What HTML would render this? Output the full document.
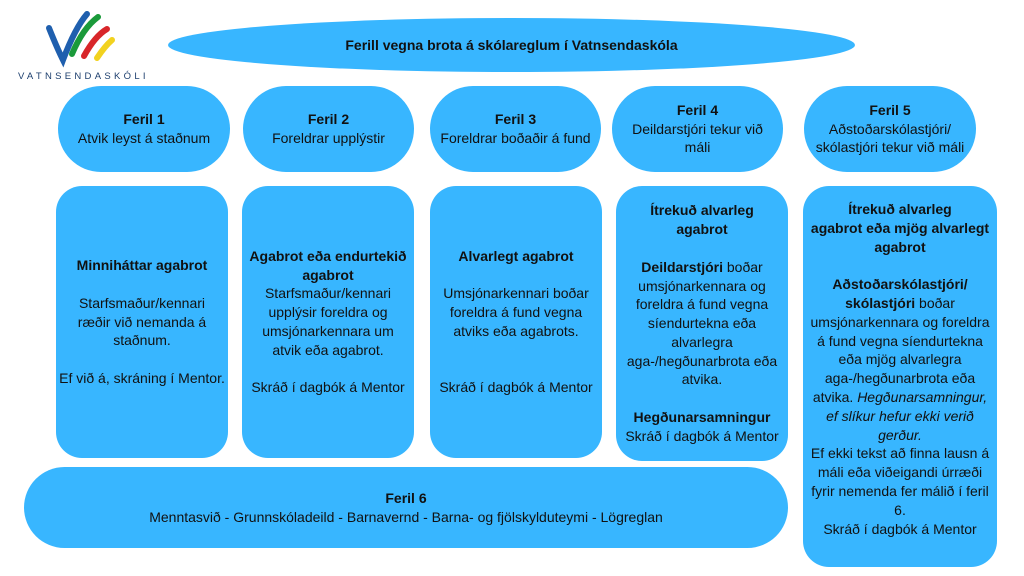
<!DOCTYPE html>
<html><head><meta charset="utf-8"><style>
body{margin:0;width:1024px;height:576px;background:#fff;position:relative;overflow:hidden;font-family:"Liberation Sans",sans-serif;color:#111;}
.b{position:absolute;background:#38b6ff;display:flex;flex-direction:column;justify-content:center;align-items:center;text-align:center;font-size:14px;line-height:18.8px;box-sizing:border-box;white-space:nowrap;}
.pill{border-radius:43px;}
.r{border-radius:26px;padding:0 2px;}
b{font-weight:bold;}
</style></head><body>
<svg style="position:absolute;left:17px;top:8px" width="130" height="74">
<path d="M32 20 Q40 40 46 52 Q58 20 70 6" stroke="#1f5fae" stroke-width="6" fill="none" stroke-linecap="round"/>
<path d="M55 46 Q66 20 81 9" stroke="#1a9a3a" stroke-width="6" fill="none" stroke-linecap="round"/>
<path d="M67 48 Q78 28 90 21" stroke="#d8262a" stroke-width="6" fill="none" stroke-linecap="round"/>
<path d="M80 50 Q88 38 95 32" stroke="#f2d21f" stroke-width="6" fill="none" stroke-linecap="round"/>
<text x="1" y="71" font-family="Liberation Sans" font-size="9.5" letter-spacing="3.3" fill="#1d3f6e">VATNSENDASKÓLI</text>
</svg>
<div class="b" style="left:168px;top:18px;width:687px;height:54px;border-radius:50%;"><b>Ferill vegna brota á skólareglum í Vatnsendaskóla</b></div>
<div class="b pill" style="left:58px;top:86px;width:172px;height:86px"><b>Feril 1</b>Atvik leyst á staðnum</div>
<div class="b pill" style="left:243px;top:86px;width:171px;height:86px"><b>Feril 2</b>Foreldrar upplýstir</div>
<div class="b pill" style="left:430px;top:86px;width:171px;height:86px"><b>Feril 3</b>Foreldrar boðaðir á fund</div>
<div class="b pill" style="left:612px;top:86px;width:171px;height:86px"><b>Feril 4</b>Deildarstjóri tekur við<br>máli</div>
<div class="b pill" style="left:804px;top:86px;width:172px;height:86px"><b>Feril 5</b>Aðstoðarskólastjóri/<br>skólastjóri tekur við máli</div>
<div class="b r" style="left:56px;top:186px;width:172px;height:272px"><b>Minniháttar agabrot</b><br>Starfsmaður/kennari<br>ræðir við nemanda á<br>staðnum.<br><br>Ef við á, skráning í Mentor.</div>
<div class="b r" style="left:242px;top:186px;width:172px;height:272px"><b>Agabrot eða endurtekið<br>agabrot</b>Starfsmaður/kennari<br>upplýsir foreldra og<br>umsjónarkennara um<br>atvik eða agabrot.<br><br>Skráð í dagbók á Mentor</div>
<div class="b r" style="left:430px;top:186px;width:172px;height:272px"><b>Alvarlegt agabrot</b><br>Umsjónarkennari boðar<br>foreldra á fund vegna<br>atviks eða agabrots.<br><br><br>Skráð í dagbók á Mentor</div>
<div class="b r" style="left:616px;top:186px;width:172px;height:275px"><b>Ítrekuð alvarleg<br>agabrot</b><br><span><b>Deildarstjóri</b> boðar</span>umsjónarkennara og<br>foreldra á fund vegna<br>síendurtekna eða<br>alvarlegra<br>aga-/hegðunarbrota eða<br>atvika.<br><br><b>Hegðunarsamningur</b>Skráð í dagbók á Mentor</div>
<div class="b r" style="left:803px;top:186px;width:194px;height:381px;justify-content:flex-start;padding-top:14px"><b>Ítrekuð alvarleg<br>agabrot eða mjög alvarlegt<br>agabrot</b><br><b>Aðstoðarskólastjóri/</b><span><b>skólastjóri</b> boðar</span>umsjónarkennara og foreldra<br>á fund vegna síendurtekna<br>eða mjög alvarlegra<br>aga-/hegðunarbrota eða<br><span>atvika. <i>Hegðunarsamningur,</i></span><i>ef slíkur hefur ekki verið<br>gerður.</i>Ef ekki tekst að finna lausn á<br>máli eða viðeigandi úrræði<br>fyrir nemenda fer málið í feril<br>6.<br>Skráð í dagbók á Mentor</div>
<div class="b pill" style="left:24px;top:467px;width:764px;height:81px;border-radius:41px"><b>Feril 6</b>Menntasvið - Grunnskóladeild - Barnavernd - Barna- og fjölskylduteymi - Lögreglan</div>
</body></html>
